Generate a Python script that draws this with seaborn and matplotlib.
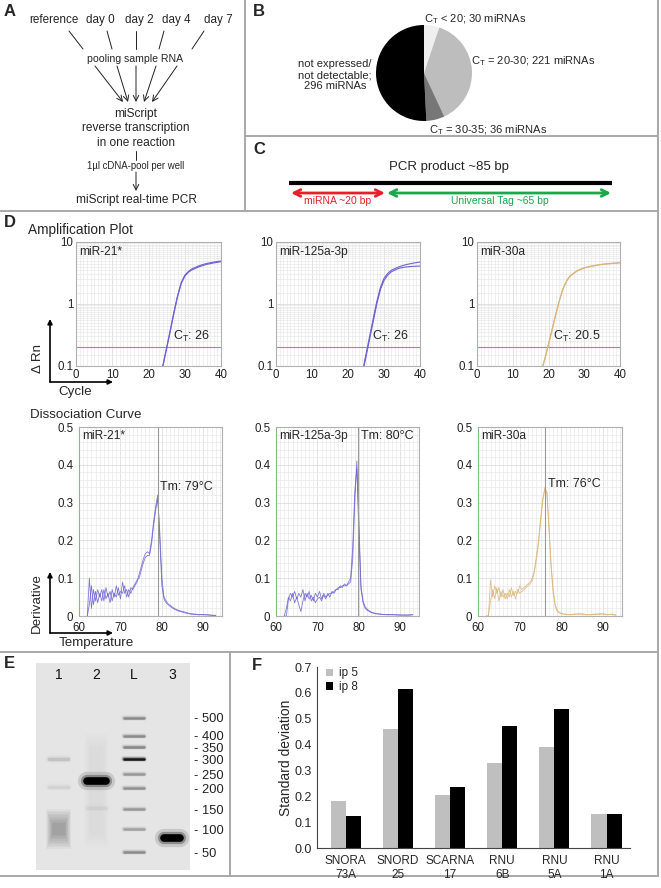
import numpy as np
import pandas as pd
import matplotlib
matplotlib.use('Agg')
import matplotlib.pyplot as plt
import seaborn as sns
from matplotlib.ticker import MultipleLocator, LogLocator, NullFormatter

# ── Data ──────────────────────────────────────────────────────────────────────
# B: pie of miRNA detection classes
PIE_LABELS = ['C$_\\mathrm{T}$ < 20; 30 miRNAs', 'C$_\\mathrm{T}$ = 20-30; 221 miRNAs',
              'C$_\\mathrm{T}$ = 30-35; 36 miRNAs', 'not expressed/\nnot detectable;\n296 miRNAs']
PIE_COUNTS = [30, 221, 36, 296]
PIE_COLORS = ['#efefef', '#bdbdbd', '#777777', '#000000']

# D: amplification plots (cycle vs delta Rn)
AMP_NAMES = ['miR-21*', 'miR-125a-3p', 'miR-30a']
CT_VALUES = [26, 26, 20.5]
AMP_CYCLES = [23, 24, 25, 26, 27, 28, 29, 30, 31, 32, 34, 36, 38, 40]
MIR21_AMP_1 = [0.06, 0.10, 0.19, 0.36, 0.70, 1.30, 2.10, 2.80, 3.25, 3.55, 4.00, 4.35, 4.60, 4.80]
MIR21_AMP_2 = [0.065, 0.105, 0.20, 0.38, 0.74, 1.35, 2.20, 2.90, 3.35, 3.70, 4.15, 4.50, 4.75, 4.95]
MIR125_AMP_1 = [0.045, 0.075, 0.14, 0.27, 0.52, 1.00, 1.70, 2.40, 2.90, 3.30, 3.75, 3.95, 4.05, 4.10]
MIR125_AMP_2 = [0.05, 0.08, 0.155, 0.30, 0.58, 1.10, 1.85, 2.60, 3.10, 3.50, 3.95, 4.30, 4.55, 4.75]
AMP_CYCLES_30A = [17, 18, 19, 20, 21, 22, 23, 24, 25, 26, 28, 30, 32, 34, 36, 38, 40]
MIR30_AMP_1 = [0.05, 0.08, 0.13, 0.22, 0.38, 0.66, 1.10, 1.70, 2.30, 2.80, 3.40, 3.80, 4.05, 4.25, 4.40, 4.50, 4.60]
MIR30_AMP_2 = [0.052, 0.083, 0.135, 0.23, 0.39, 0.68, 1.12, 1.75, 2.35, 2.85, 3.45, 3.85, 4.10, 4.30, 4.45, 4.55, 4.65]

# D: dissociation curves (temperature vs derivative)
TM_VALUES = [79, 80, 76]
TM_PEAK = [79, 79.7, 76]
T_DISS = [62, 62.5, 63, 63.5, 64, 64.5, 65, 65.5, 66, 66.5,
          67, 67.5, 68, 68.5, 69, 69.5, 70, 70.5, 71, 71.5,
          72, 72.5, 73, 73.5, 74, 74.5, 75, 75.5, 76, 76.5,
          77, 77.5, 78, 78.5, 79, 79.5, 80, 80.5, 81, 81.5,
          82, 83, 84, 85, 86, 87, 88, 89, 90, 91,
          92, 93]
MIR21_DISS_1 = [0.0, 0.10, 0.02, 0.07, 0.04, 0.07, 0.05, 0.07, 0.04, 0.075,
                0.05, 0.065, 0.04, 0.06, 0.05, 0.075, 0.045, 0.09, 0.06, 0.07,
                0.05, 0.075, 0.07, 0.08, 0.09, 0.11, 0.13, 0.15, 0.165, 0.17,
                0.165, 0.20, 0.25, 0.29, 0.32, 0.20, 0.08, 0.045, 0.035, 0.03,
                0.025, 0.018, 0.013, 0.01, 0.007, 0.005, 0.004, 0.003, 0.004, 0.003,
                0.002, 0.002]
MIR21_DISS_2 = [0.0, 0.03, 0.08, 0.03, 0.065, 0.035, 0.06, 0.04, 0.07, 0.045,
                0.06, 0.035, 0.07, 0.05, 0.08, 0.055, 0.065, 0.06, 0.08, 0.05,
                0.07, 0.06, 0.075, 0.085, 0.095, 0.10, 0.12, 0.14, 0.155, 0.16,
                0.16, 0.19, 0.24, 0.28, 0.31, 0.22, 0.10, 0.05, 0.04, 0.032,
                0.028, 0.02, 0.015, 0.012, 0.009, 0.006, 0.005, 0.004, 0.003, 0.003,
                0.002, 0.001]
MIR125_DISS_1 = [0.0, 0.0, 0.045, 0.06, 0.05, 0.065, 0.045, 0.06, 0.05, 0.07,
                 0.04, 0.06, 0.045, 0.055, 0.04, 0.06, 0.05, 0.065, 0.045, 0.06,
                 0.05, 0.055, 0.06, 0.06, 0.065, 0.07, 0.075, 0.075, 0.08, 0.08,
                 0.08, 0.085, 0.09, 0.15, 0.30, 0.41, 0.25, 0.08, 0.04, 0.025,
                 0.018, 0.01, 0.007, 0.005, 0.004, 0.003, 0.004, 0.003, 0.002, 0.003,
                 0.002, 0.003]
MIR125_DISS_2 = [0.0, 0.02, 0.05, 0.04, 0.06, 0.035, 0.05, 0.03, 0.012, 0.04,
                 0.06, 0.05, 0.065, 0.04, 0.05, 0.035, 0.045, 0.05, 0.04, 0.055,
                 0.045, 0.06, 0.05, 0.065, 0.06, 0.07, 0.07, 0.08, 0.075, 0.085,
                 0.08, 0.09, 0.10, 0.18, 0.33, 0.39, 0.22, 0.07, 0.035, 0.02,
                 0.015, 0.009, 0.006, 0.005, 0.004, 0.004, 0.003, 0.003, 0.003, 0.002,
                 0.003, 0.004]
MIR30_DISS_1 = [0.0, 0.0, 0.095, 0.05, 0.08, 0.06, 0.075, 0.05, 0.07, 0.045,
                0.06, 0.05, 0.075, 0.055, 0.065, 0.06, 0.08, 0.07, 0.075, 0.08,
                0.085, 0.09, 0.10, 0.12, 0.16, 0.20, 0.26, 0.31, 0.335, 0.33,
                0.24, 0.14, 0.07, 0.03, 0.015, 0.01, 0.007, 0.005, 0.005, 0.004,
                0.004, 0.005, 0.006, 0.004, 0.003, 0.004, 0.005, 0.004, 0.006, 0.004,
                0.005, 0.003]
MIR30_DISS_2 = [0.0, 0.0, 0.04, 0.07, 0.045, 0.075, 0.04, 0.065, 0.05, 0.06,
                0.045, 0.07, 0.05, 0.065, 0.045, 0.07, 0.06, 0.065, 0.07, 0.075,
                0.08, 0.085, 0.095, 0.115, 0.15, 0.19, 0.25, 0.30, 0.34, 0.325,
                0.23, 0.13, 0.06, 0.025, 0.012, 0.008, 0.006, 0.005, 0.004, 0.004,
                0.003, 0.004, 0.005, 0.006, 0.004, 0.003, 0.004, 0.006, 0.005, 0.003,
                0.004, 0.002]

# E: agarose gel (migration distance from gel top, in px)
LANE_LABELS = ['1', '2', 'L', '3']
LADDER_BP = [500, 400, 350, 300, 250, 200, 150, 100, 50]
LADDER_MIG = [55, 73, 84, 96, 111, 125, 146, 166, 189]
LADDER_INT = [0.3, 0.3, 0.32, 0.85, 0.25, 0.28, 0.25, 0.22, 0.3]
BAND_LANE = [0, 0, 1, 1, 3]
BAND_MIG = [96, 124, 118, 145, 175]
BAND_INT = [0.1, 0.05, 1.0, 0.04, 1.0]
SMEAR_LANE = [0, 1]
SMEAR_TOP = [146, 70]
SMEAR_BOTTOM = [186, 185]
SMEAR_INT = [0.3, 0.03]

# F: standard deviation of reference RNAs
GENES = ['SNORA\n73A', 'SNORD\n25', 'SCARNA\n17', 'RNU\n6B', 'RNU\n5A', 'RNU\n1A']
IP5_SD = [0.18, 0.46, 0.205, 0.33, 0.39, 0.13]
IP8_SD = [0.125, 0.615, 0.237, 0.47, 0.537, 0.13]

# ── Figure setup ──────────────────────────────────────────────────────────────
W, H = 661, 888
sns.set_style('white')
plt.rcParams['font.family'] = ['Liberation Sans', 'DejaVu Sans']
plt.rcParams['mathtext.fontset'] = 'custom'
plt.rcParams['mathtext.rm'] = 'Liberation Sans'
plt.rcParams['mathtext.it'] = 'Liberation Sans:italic'

fig = plt.figure(figsize=(W / 100, H / 100), dpi=100)


def px_axes(x0, y0, x1, y1):
    return fig.add_axes([x0 / W, 1 - y1 / H, (x1 - x0) / W, (y1 - y0) / H])


ov = px_axes(0, 0, W, H)
ov.set_xlim(0, W)
ov.set_ylim(H, 0)
ov.axis('off')

# panel frames
frame = dict(color='#a8a8a8', lw=1.4)
ov.plot([245, 245], [0, 211], **frame)
ov.plot([245, 658], [136, 136], **frame)
ov.plot([0, 658], [211, 211], **frame)
ov.plot([658, 658], [0, 876], **frame)
ov.plot([0, 658], [652, 652], **frame)
ov.plot([230, 230], [652, 876], **frame)
ov.plot([0, 658], [876, 876], **frame)

letter = dict(fontsize=12, weight='bold', va='center', ha='left')

# ── A: workflow ───────────────────────────────────────────────────────────────
ov.text(4, 12, 'A', **letter)
for lab, cx in zip(['reference', 'day 0', 'day 2', 'day 4', 'day 7'], [54, 100, 139, 176, 218]):
    ov.text(cx, 20, lab, fontsize=8.4, ha='center', va='center')
for (x0, x1) in [(69, 83), (107, 112), (136, 136), (164, 159), (204, 192)]:
    ov.plot([x0, x1], [31, 49], color='#222222', lw=0.7)
ov.text(135, 59, 'pooling sample RNA', fontsize=7.6, ha='center', va='center')
for (x0, x1) in [(95, 123), (117, 128), (136, 136), (156, 144), (177, 152)]:
    ov.annotate('', xy=(x1, 102), xytext=(x0, 66),
                arrowprops=dict(arrowstyle='->', lw=0.7, color='#222222', shrinkA=0, shrinkB=0))
ov.text(136, 114, 'miScript', fontsize=8.6, ha='center', va='center')
ov.text(136, 128, 'reverse transcription', fontsize=8.6, ha='center', va='center')
ov.text(136, 143, 'in one reaction', fontsize=8.6, ha='center', va='center')
ov.plot([136, 136], [151, 160], color='#222222', lw=0.7)
ov.text(136, 166, '1µl cDNA-pool per well', fontsize=6.9, ha='center', va='center')
ov.annotate('', xy=(136, 191), xytext=(136, 172),
            arrowprops=dict(arrowstyle='->', lw=0.7, color='#222222', shrinkA=0, shrinkB=0))
ov.text(136, 200, 'miScript real-time PCR', fontsize=8.6, ha='center', va='center')

# ── B: pie ────────────────────────────────────────────────────────────────────
ov.text(253, 12, 'B', **letter)
axp = px_axes(364, 13, 484, 133)
axp.pie(PIE_COUNTS, colors=PIE_COLORS, startangle=90, counterclock=False,
        wedgeprops=dict(linewidth=0))
axp.set_aspect('equal')
ov.text(424, 19, PIE_LABELS[0], fontsize=8, ha='left', va='center')
ov.text(471, 61, PIE_LABELS[1], fontsize=8, ha='left', va='center')
ov.text(429, 130, PIE_LABELS[2], fontsize=8, ha='left', va='center')
ov.text(335, 75, PIE_LABELS[3], fontsize=8, ha='center', va='center',
        multialignment='center', linespacing=1.15)

# ── C: PCR product ────────────────────────────────────────────────────────────
ov.text(253, 150, 'C', **letter)
ov.text(449, 167, 'PCR product ~85 bp', fontsize=9.5, ha='center', va='center')
ov.plot([289, 612], [183, 183], color='black', lw=3, solid_capstyle='butt')
ov.annotate('', xy=(385, 193), xytext=(291, 193),
            arrowprops=dict(arrowstyle='<->', lw=2, color='#e8202a', shrinkA=0, shrinkB=0,
                            mutation_scale=12))
ov.annotate('', xy=(611, 193), xytext=(387, 193),
            arrowprops=dict(arrowstyle='<->', lw=2, color='#1aa84a', shrinkA=0, shrinkB=0,
                            mutation_scale=12))
ov.text(338, 201, 'miRNA ~20 bp', fontsize=7.5, color='#e8202a', ha='center', va='center')
ov.text(500, 201, 'Universal Tag ~65 bp', fontsize=7.5, color='#1aa84a', ha='center', va='center')

# ── D: amplification + dissociation ───────────────────────────────────────────
ov.text(4, 222, 'D', **letter)
ov.text(28, 230, 'Amplification Plot', fontsize=9.8, ha='left', va='center')
ov.text(30, 415, 'Dissociation Curve', fontsize=9.6, ha='left', va='center')

blue = '#6c62d2'
tan = '#d9b578'
amp_data = [(AMP_CYCLES, [MIR21_AMP_1, MIR21_AMP_2], blue),
            (AMP_CYCLES, [MIR125_AMP_1, MIR125_AMP_2], blue),
            (AMP_CYCLES_30A, [MIR30_AMP_1, MIR30_AMP_2], tan)]
diss_data = [([MIR21_DISS_1, MIR21_DISS_2], blue),
             ([MIR125_DISS_1, MIR125_DISS_2], blue),
             ([MIR30_DISS_1, MIR30_DISS_2], tan)]
amp_boxes = [(76, 242, 221, 366), (276, 242, 420, 366), (477, 242, 620, 366)]
diss_boxes = [(79, 427, 222, 616), (276, 427, 419, 616), (478, 427, 622, 616)]
tm_text_pos = [(79.5, 0.34), (80.5, 0.475), (76.8, 0.35)]


def style_grid_axes(ax):
    ax.grid(True, which='major', color='#d6d6d6', lw=0.5)
    ax.grid(True, which='minor', color='#e9e9e9', lw=0.5)
    ax.set_axisbelow(True)
    for s in ax.spines.values():
        s.set_color('#b0b0b0')
        s.set_linewidth(0.8)
    ax.tick_params(which='both', length=0, labelsize=8.3, colors='#222222')
    ax.tick_params(axis='y', pad=2)


for i in range(3):
    cyc, reps, col = amp_data[i]
    ax = px_axes(*amp_boxes[i])
    for rep in reps:
        sns.lineplot(x=cyc, y=rep, ax=ax, color=col, lw=0.8, estimator=None, sort=False)
    ax.set_yscale('log')
    ax.set_xlim(0, 40)
    ax.set_ylim(0.1, 10)
    ax.set_xticks([0, 10, 20, 30, 40])
    ax.xaxis.set_minor_locator(MultipleLocator(1))
    ax.set_yticks([0.1, 1, 10])
    ax.set_yticklabels(['0.1', '1', '10'])
    ax.yaxis.set_minor_locator(LogLocator(base=10, subs=np.arange(1.5, 10, 0.5)))
    ax.yaxis.set_minor_formatter(NullFormatter())
    style_grid_axes(ax)
    ax.tick_params(axis='x', pad=2)
    ax.axhline(0.2, color='#f26b6b', lw=0.8, zorder=1.5)
    ax.text(0.02, 0.97, AMP_NAMES[i], transform=ax.transAxes, fontsize=8.6, ha='left', va='top')
    ct = CT_VALUES[i]
    ax.text(ct + 0.7, 0.3, 'C$_\\mathrm{T}$: %g' % ct, fontsize=9, ha='left', va='center')

    reps_d, col_d = diss_data[i]
    axd = px_axes(*diss_boxes[i])
    for rep in reps_d:
        sns.lineplot(x=T_DISS, y=rep, ax=axd, color=col_d, lw=0.6, alpha=0.85,
                     estimator=None, sort=False)
    axd.set_xlim(60, 94.5)
    axd.set_ylim(0, 0.5)
    axd.set_xticks([60, 70, 80, 90])
    axd.set_yticks([0, 0.1, 0.2, 0.3, 0.4, 0.5])
    axd.set_yticklabels(['0', '0.1', '0.2', '0.3', '0.4', '0.5'])
    axd.xaxis.set_minor_locator(MultipleLocator(1))
    axd.yaxis.set_minor_locator(MultipleLocator(0.02))
    style_grid_axes(axd)
    axd.tick_params(axis='x', pad=4.5)
    axd.tick_params(axis='y', pad=4)
    axd.spines['left'].set_color('#7cc07c')
    axd.axvline(TM_PEAK[i], color='#999999', lw=0.8)
    tx, ty = tm_text_pos[i]
    axd.text(tx, ty, 'Tm: %d°C' % TM_VALUES[i], fontsize=9, ha='left', va='center')
    axd.text(0.02, 0.985, AMP_NAMES[i], transform=axd.transAxes, fontsize=8.6, ha='left', va='top')

# axis-direction arrows
arrow = dict(arrowstyle='-|>', lw=1.2, color='black', shrinkA=0, shrinkB=0, mutation_scale=7)
ov.annotate('', xy=(50, 319), xytext=(50, 382), arrowprops=arrow)
ov.annotate('', xy=(113, 382), xytext=(50, 382), arrowprops=arrow)
ov.text(38, 358, 'Δ Rn', fontsize=9.6, rotation=90, ha='center', va='center')
ov.text(75, 392, 'Cycle', fontsize=9.6, ha='center', va='center')
ov.annotate('', xy=(50, 572), xytext=(50, 633), arrowprops=arrow)
ov.annotate('', xy=(113, 633), xytext=(50, 633), arrowprops=arrow)
ov.text(37, 603, 'Derivative', fontsize=9.6, rotation=90, ha='center', va='center')
ov.text(96, 643, 'Temperature', fontsize=9.6, ha='center', va='center')

# ── E: gel ────────────────────────────────────────────────────────────────────
ov.text(4, 663, 'E', **letter)
axg = px_axes(36, 663, 190, 870)
axg.set_facecolor('#e5e5e5')
axg.set_xlim(-0.6, 3.48)
axg.set_ylim(207, 0)
for s in axg.spines.values():
    s.set_visible(False)


def band(ax, lane, mig, hw, lw, strength):
    for k, a in [(2.4, 0.12), (1.6, 0.3), (1.0, 1.0)]:
        ax.plot([lane - hw, lane + hw], [mig, mig], lw=lw * k, color='black',
                alpha=min(1.0, strength * a), solid_capstyle='round')


# diffuse smears: stacked soft layers, each a little narrower
for lane, top, bot, s in zip(SMEAR_LANE, SMEAR_TOP, SMEAR_BOTTOM, SMEAR_INT):
    for k in range(10):
        axg.fill_between([lane - 0.33 + 0.018 * k, lane + 0.33 - 0.018 * k],
                         top + 1.6 * k, bot - 1.6 * k, color='black', alpha=s * 0.11, lw=0)
for mig, s in zip(LADDER_MIG, LADDER_INT):
    band(axg, 2, mig, 0.27, 1.8, s)
for lane, mig, s in zip(BAND_LANE, BAND_MIG, BAND_INT):
    band(axg, lane, mig, 0.25 if lane != 3 else 0.21, 5.5 if s > 0.5 else 2.5, s)
for lane, lab in enumerate(LANE_LABELS):
    axg.text(lane, 12, lab, fontsize=10, ha='center', va='center', color='#111111')
axg.set_xticks([])
axg.yaxis.tick_right()
axg.set_yticks(LADDER_MIG)
axg.set_yticklabels(['- %d' % bp for bp in LADDER_BP])
axg.tick_params(axis='y', length=0, pad=3, labelsize=9.3, colors='#222222')

# ── F: bar chart ──────────────────────────────────────────────────────────────
ov.text(252, 665, 'F', **letter)
axf = px_axes(317, 667, 630, 848)
sd_df = pd.DataFrame({
    'gene': GENES * 2,
    'ip': ['ip 5'] * len(GENES) + ['ip 8'] * len(GENES),
    'sd': IP5_SD + IP8_SD,
})
sns.barplot(data=sd_df, x='gene', y='sd', hue='ip', palette=['#bfbfbf', '#000000'],
            width=0.58, saturation=1, ax=axf, linewidth=0)
axf.set_xlim(-0.55, 5.45)
axf.set_ylim(0, 0.7)
axf.set_yticks(np.arange(0, 0.71, 0.1))
axf.set_yticklabels(['%.1f' % v for v in np.arange(0, 0.71, 0.1)])
axf.set_xlabel('')
axf.set_ylabel('Standard deviation', fontsize=10, labelpad=1)
sns.despine(ax=axf)
for s in ['left', 'bottom']:
    axf.spines[s].set_color('#444444')
    axf.spines[s].set_linewidth(0.8)
axf.tick_params(axis='y', length=3, width=0.8, labelsize=9, pad=1, color='#444444')
axf.tick_params(axis='x', length=3, width=0.8, labelsize=8.5, pad=2, color='#444444')
axf.legend(loc='upper left', frameon=False, fontsize=8.5, handlelength=0.6,
           handleheight=0.6, handletextpad=0.5, borderaxespad=0.1,
           labelspacing=0.15, bbox_to_anchor=(0.01, 1.03))

fig.savefig('out.png', dpi=100)
